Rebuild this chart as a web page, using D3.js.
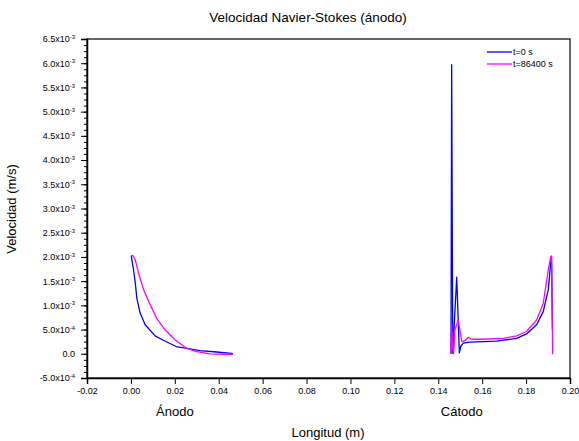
<!DOCTYPE html>
<html><head><meta charset="utf-8">
<script src="https://cdn.jsdelivr.net/npm/d3@7"></script>
<style>body{margin:0;background:#fff}svg{font-family:"Liberation Sans",Arial,sans-serif}</style>
</head><body><svg id="c" width="579" height="441"></svg>
<script>
const xTicks = [-0.02,0,0.02,0.04,0.06,0.08,0.10,0.12,0.14,0.16,0.18,0.20];
const xTickLabels = ["-0.02","0.00","0.02","0.04","0.06","0.08","0.10","0.12","0.14","0.16","0.18","0.20"];
const yTicks = [-0.0005,0,0.0005,0.001,0.0015,0.002,0.0025,0.003,0.0035,0.004,0.0045,0.005,0.0055,0.006,0.0065];
const yTickMant = ["-5.0","0.0","5.0","1.0","1.5","2.0","2.5","3.0","3.5","4.0","4.5","5.0","5.5","6.0","6.5"];
const yTickExp  = ["-4","","-4","-3","-3","-3","-3","-3","-3","-3","-3","-3","-3","-3","-3"];
const seriesNames = ["t=0 s","t=86400 s"];
const seriesColors = ["#0000ff","#ff00ff"];
// anode segment
const anodeX0 = [0.00015,0.0012,0.002,0.0027,0.0042,0.0065,0.011,0.0148,0.0206,0.0255,0.0315,0.039,0.0459,0.0464];
const anodeY0 = [2.02e-3,1.73e-3,1.46e-3,1.15e-3,0.84e-3,0.60e-3,0.37e-3,0.28e-3,0.15e-3,0.11e-3,0.065e-3,0.037e-3,0.01e-3,-0.01e-3];
const anodeX1 = [0,0.0009,0.002,0.0035,0.0058,0.0088,0.0118,0.0156,0.0202,0.0255,0.030,0.036,0.042,0.0464];
const anodeY1 = [2.02e-3,2.03e-3,1.94e-3,1.66e-3,1.32e-3,1.01e-3,0.73e-3,0.49e-3,0.285e-3,0.11e-3,0.044e-3,0,-0.01e-3,-0.01e-3];
// cathode segment
const cathX0 = [0.1458,0.1461,0.1466,0.1484,0.1496,0.1502,0.1514,0.1544,0.1666,0.1757,0.1802,0.1848,0.1878,0.1901,0.1912,0.1916,0.1920];
const cathY0 = [0,5.97e-3,0.01e-3,1.58e-3,0.02e-3,0.15e-3,0.22e-3,0.24e-3,0.26e-3,0.32e-3,0.41e-3,0.60e-3,0.87e-3,1.32e-3,1.87e-3,2.0e-3,0.5e-3];
const cathX1 = [0.1458,0.1461,0.1466,0.1470,0.1476,0.1491,0.1507,0.1522,0.1537,0.1552,0.1605,0.1696,0.1757,0.1802,0.1848,0.1878,0.1901,0.1912,0.1916,0.1921];
const cathY1 = [0,0.6e-3,0.1e-3,0,0.49e-3,0.70e-3,0.25e-3,0.27e-3,0.34e-3,0.30e-3,0.30e-3,0.32e-3,0.37e-3,0.46e-3,0.70e-3,1.04e-3,1.73e-3,2.0e-3,2.02e-3,-0.01e-3];

const svg = d3.select("#c");
const L=87,R=570,T=39,B=378;
const x = d3.scaleLinear().domain([-0.02,0.20]).range([L,R]);
const y = d3.scaleLinear().domain([-0.0005,0.0065]).range([B,T]);

// frame
svg.append("rect").attr("x",L).attr("y",T).attr("width",R-L).attr("height",B-T).attr("fill","none").attr("stroke","#000").attr("stroke-width",1.2);

// minor y ticks (3 between majors)
const minor = d3.range(-4,53).map(d=>d*1.25e-4);
svg.append("g").attr("transform",`translate(${L},0)`).call(d3.axisLeft(y).tickValues(minor).tickSize(3).tickFormat(""))
  .call(g=>g.select(".domain").remove()).selectAll("line").attr("stroke-width",1);

// y axis
const gy = svg.append("g").attr("transform",`translate(${L},0)`)
  .call(d3.axisLeft(y).tickValues(yTicks).tickSize(6).tickPadding(6).tickFormat(""));
gy.select(".domain").attr("stroke-width",1.5);
gy.selectAll(".tick").each(function(d,i){
  const t = d3.select(this).select("text").attr("font-size",9).attr("fill","#000").attr("dy","0.32em");
  t.append("tspan").text(yTickExp[i] ? yTickMant[i]+"x10" : yTickMant[i]);
  if (yTickExp[i]) t.append("tspan").attr("font-size",6).attr("dy","-0.55em").text(yTickExp[i]);
});

// x axis
const gx = svg.append("g").attr("transform",`translate(0,${B})`)
  .call(d3.axisBottom(x).tickValues(xTicks).tickSize(6).tickPadding(4).tickFormat((d,i)=>xTickLabels[i]));
gx.select(".domain").attr("stroke-width",1.5);
gx.selectAll("text").attr("font-size",9).attr("fill","#000");

const line = d3.line().x(d=>x(d[0])).y(d=>y(d[1]));
const data = [
  [anodeX0,anodeY0,0],[cathX0,cathY0,0],
  [anodeX1,anodeY1,1],[cathX1,cathY1,1]
];
data.forEach(([xs,ys,s])=>{
  svg.append("path").datum(xs.map((v,i)=>[v,ys[i]])).attr("d",line)
    .attr("fill","none").attr("stroke",seriesColors[s]).attr("stroke-width",1.3).attr("stroke-linejoin","round");
});

// legend
seriesNames.forEach((n,i)=>{
  const yy = 52 + i*12;
  svg.append("line").attr("x1",487).attr("x2",512).attr("y1",yy).attr("y2",yy).attr("stroke",seriesColors[i]).attr("stroke-width",1.3);
  svg.append("text").attr("x",513).attr("y",yy+3).attr("font-size",9).text(n);
});

// texts
svg.append("text").attr("x",308).attr("y",22).attr("text-anchor","middle").attr("font-size",13.5).text("Velocidad Navier-Stokes (ánodo)");
svg.append("text").attr("x",x(0.02)).attr("y",416).attr("text-anchor","middle").attr("font-size",13).text("Ánodo");
svg.append("text").attr("x",x(0.1507)).attr("y",416).attr("text-anchor","middle").attr("font-size",13).text("Cátodo");
svg.append("text").attr("x",328).attr("y",437).attr("text-anchor","middle").attr("font-size",13).text("Longitud (m)");
svg.append("text").attr("transform","translate(16,209) rotate(-90)").attr("text-anchor","middle").attr("font-size",13).text("Velocidad (m/s)");
</script></body></html>
